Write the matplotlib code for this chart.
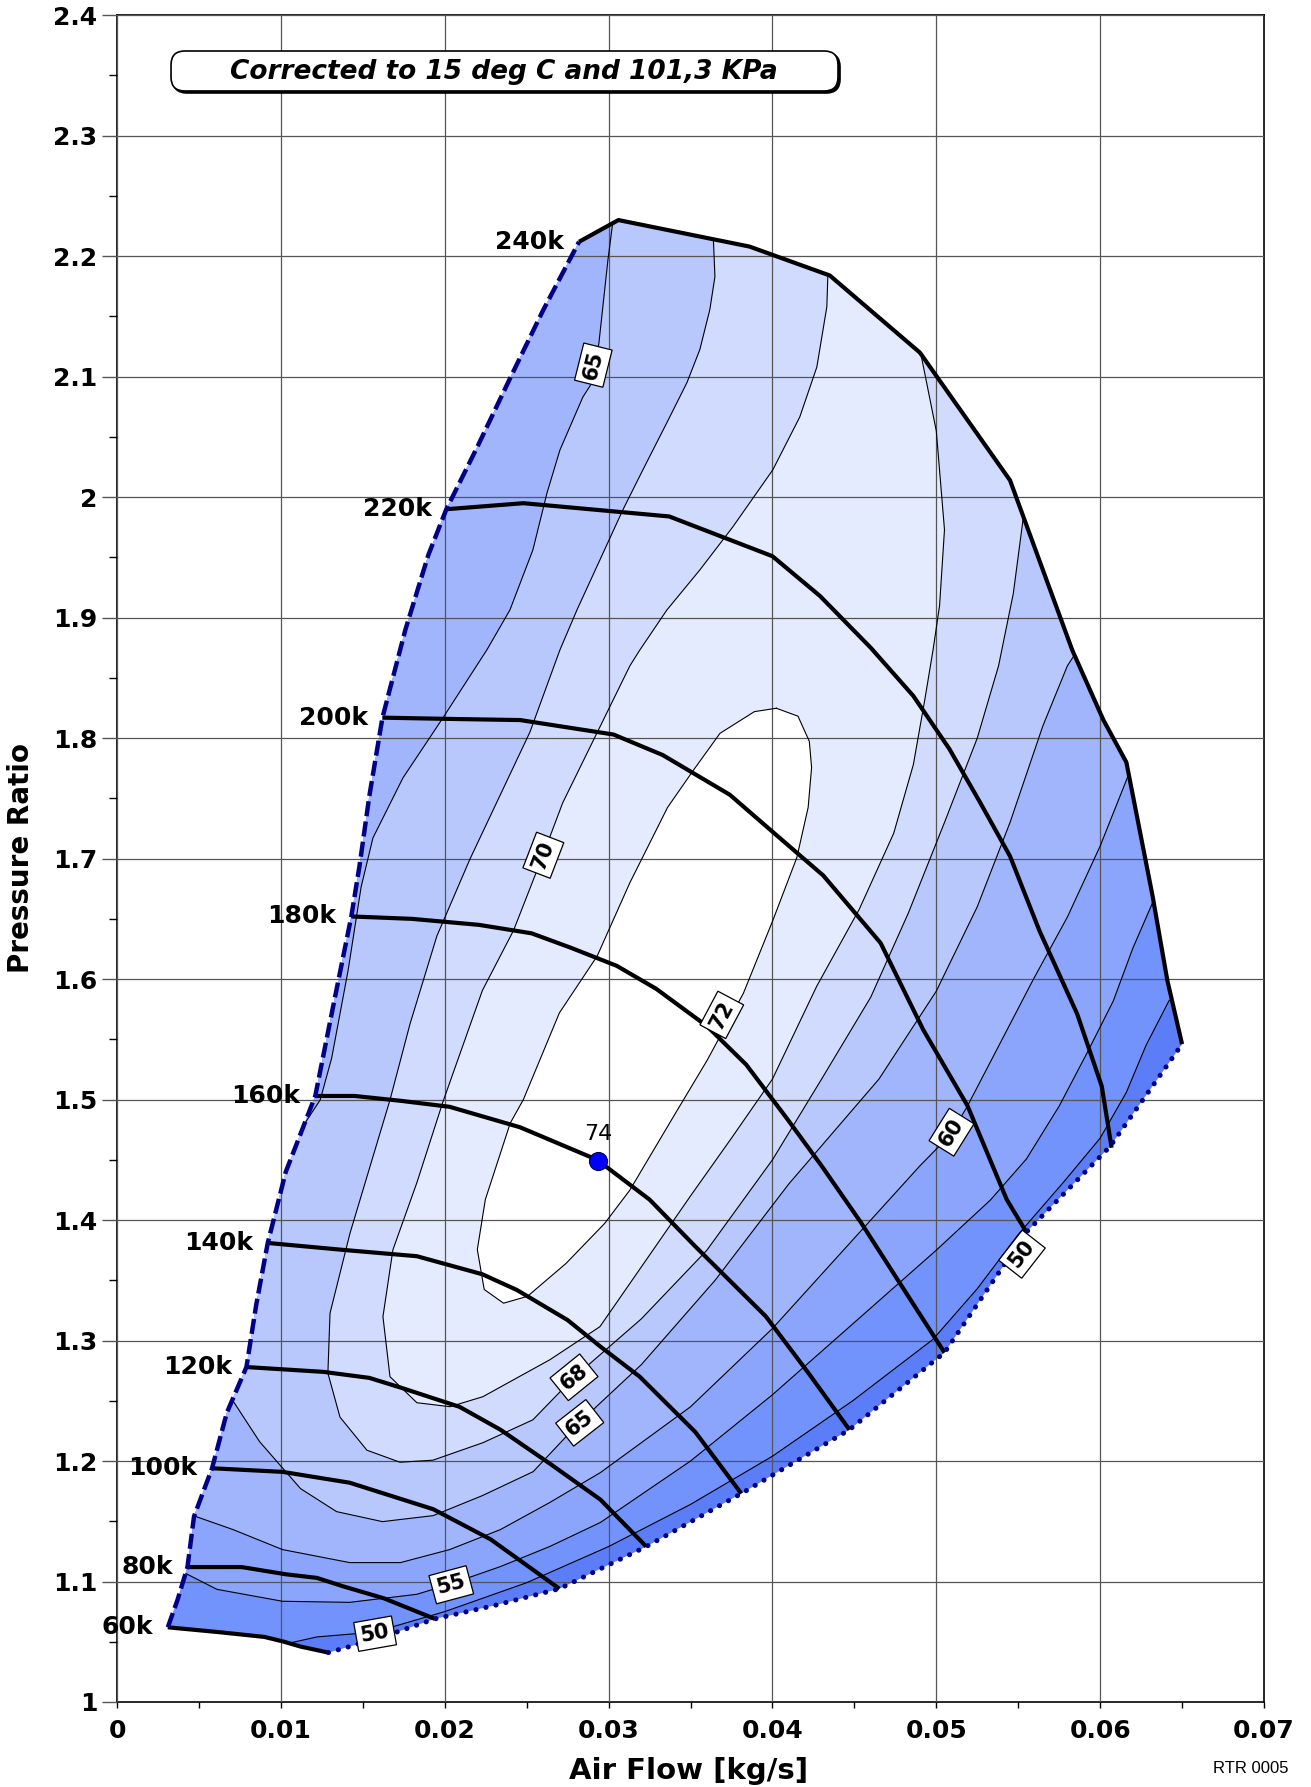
import matplotlib
matplotlib.use("Agg")
import matplotlib.pyplot as plt
from matplotlib.patches import Polygon, FancyBboxPatch
from matplotlib.transforms import offset_copy
import numpy as np

# ---- speed lines: (air flow [kg/s], pressure ratio) ----
spd_60k = [(0.0031, 1.062), (0.0062, 1.058), (0.0090, 1.054), (0.0102, 1.050), (0.0112, 1.046), (0.0129, 1.041)]
spd_80k = [(0.0043, 1.112), (0.0076, 1.112), (0.0103, 1.106), (0.0122, 1.103), (0.0138, 1.096), (0.0163, 1.086), (0.0194, 1.069)]
spd_100k = [(0.0058, 1.194), (0.0101, 1.191), (0.0142, 1.182), (0.0193, 1.160), (0.0228, 1.135), (0.0270, 1.094)]
spd_120k = [(0.0079, 1.278), (0.0126, 1.274), (0.0154, 1.269), (0.0173, 1.261), (0.0209, 1.245), (0.0234, 1.226),
            (0.0264, 1.198), (0.0295, 1.168), (0.0323, 1.129)]
spd_140k = [(0.0092, 1.381), (0.0140, 1.375), (0.0183, 1.370), (0.0223, 1.355), (0.0244, 1.342), (0.0275, 1.317),
            (0.0295, 1.295), (0.0319, 1.270), (0.0353, 1.224), (0.0381, 1.173)]
spd_160k = [(0.0121, 1.503), (0.0145, 1.503), (0.0173, 1.499), (0.0203, 1.494), (0.0246, 1.477), (0.0293, 1.450),
            (0.0325, 1.417), (0.0353, 1.378), (0.0396, 1.320), (0.0422, 1.273), (0.0447, 1.226)]
spd_180k = [(0.0143, 1.652), (0.0180, 1.650), (0.0221, 1.645), (0.0253, 1.638), (0.0277, 1.626), (0.0305, 1.611),
            (0.0329, 1.592), (0.0360, 1.561), (0.0384, 1.529), (0.0409, 1.484), (0.0430, 1.445), (0.0454, 1.398),
            (0.0479, 1.345), (0.0505, 1.290)]
spd_200k = [(0.0162, 1.817), (0.0201, 1.816), (0.0246, 1.815), (0.0303, 1.803), (0.0333, 1.786), (0.0374, 1.753),
            (0.0402, 1.720), (0.0431, 1.686), (0.0466, 1.630), (0.0492, 1.558), (0.0519, 1.495), (0.0543, 1.417),
            (0.0555, 1.390)]
spd_220k = [(0.0201, 1.990), (0.0248, 1.995), (0.0337, 1.984), (0.0400, 1.951), (0.0429, 1.918), (0.0460, 1.875),
            (0.0486, 1.835), (0.0508, 1.791), (0.0527, 1.746), (0.0545, 1.702), (0.0563, 1.640), (0.0586, 1.571),
            (0.0601, 1.511), (0.0607, 1.460)]
spd_240k = [(0.0282, 2.212), (0.0306, 2.230), (0.0386, 2.208), (0.0435, 2.184), (0.0490, 2.120), (0.0545, 2.014),
            (0.0583, 1.873), (0.0602, 1.815), (0.0616, 1.780), (0.0632, 1.669), (0.0641, 1.599), (0.0650, 1.546)]

speed_names = ["60k", "80k", "100k", "120k", "140k", "160k", "180k", "200k", "220k", "240k"]
speed_lines = [spd_60k, spd_80k, spd_100k, spd_120k, spd_140k, spd_160k, spd_180k, spd_200k, spd_220k, spd_240k]

surge_line = [(0.0031, 1.062), (0.0037, 1.085), (0.0043, 1.112), (0.0047, 1.154), (0.0058, 1.194), (0.0067, 1.240),
              (0.0079, 1.278), (0.0085, 1.330), (0.0092, 1.381), (0.0103, 1.440), (0.0121, 1.503),
              (0.0132, 1.578), (0.0143, 1.652), (0.0148, 1.694), (0.0154, 1.752), (0.0162, 1.817), (0.0176, 1.890),
              (0.0190, 1.952), (0.0201, 1.990), (0.0220, 2.042), (0.0240, 2.099), (0.0260, 2.155), (0.0282, 2.212)]
choke_line = [(0.0129, 1.041), (0.0160, 1.053), (0.0194, 1.069), (0.0230, 1.080), (0.0270, 1.094), (0.0323, 1.129),
              (0.0381, 1.173), (0.0447, 1.226), (0.0505, 1.290), (0.0555, 1.390), (0.0606, 1.461), (0.0650, 1.546)]

# ---- efficiency islands [%] ----
eff_50 = [(0.0097, 1.040), (0.0099, 1.047), (0.0122, 1.054), (0.0157, 1.058), (0.0200, 1.075), (0.0250, 1.099),
          (0.0300, 1.129), (0.0350, 1.164), (0.0400, 1.204), (0.0449, 1.250), (0.0498, 1.301), (0.0525, 1.343),
          (0.0550, 1.388), (0.0578, 1.432), (0.0600, 1.468), (0.0616, 1.506), (0.0628, 1.545), (0.0642, 1.582),
          (0.0648, 1.588)]
eff_55 = [(0.0035, 1.109), (0.0040, 1.108), (0.0061, 1.0935), (0.0101, 1.0836), (0.0142, 1.0827), (0.0183, 1.0894),
          (0.0203, 1.0977), (0.0234, 1.1124), (0.0264, 1.129), (0.0295, 1.149), (0.0350, 1.200), (0.0400, 1.255),
          (0.0450, 1.315), (0.0500, 1.375), (0.0533, 1.4166), (0.0555, 1.4507), (0.0575, 1.4946), (0.0592, 1.5387),
          (0.0608, 1.5818), (0.0620, 1.6258), (0.0633, 1.6665), (0.0640, 1.672)]
eff_60 = [(0.0040, 1.156), (0.0048, 1.154), (0.0071, 1.143), (0.0101, 1.1265), (0.0142, 1.1157), (0.0173, 1.1157),
          (0.0203, 1.1265), (0.0234, 1.1431), (0.0264, 1.1655), (0.0295, 1.1904), (0.0350, 1.245), (0.0400, 1.310),
          (0.0450, 1.385), (0.0490, 1.445), (0.0509, 1.4714), (0.0519, 1.4946), (0.0539, 1.5469), (0.0559, 1.5992),
          (0.0580, 1.6515), (0.0600, 1.7104), (0.0617, 1.7685), (0.0625, 1.775)]
eff_65_upper = [(0.0303, 2.245), (0.03026, 2.2284), (0.02996, 2.1968), (0.02941, 2.1279), (0.02898, 2.0947),
                (0.02843, 2.0831), (0.02703, 2.0391), (0.02624, 2.0034), (0.02538, 1.9562), (0.02398, 1.9064),
                (0.02257, 1.8732), (0.01989, 1.8168), (0.01745, 1.767), (0.01562, 1.7172), (0.0149, 1.6766),
                (0.0141, 1.6069), (0.0131, 1.5344), (0.0124, 1.4997), (0.0100, 1.450)]
eff_65_lower = [(0.0065, 1.262), (0.0087, 1.2161), (0.0112, 1.1771), (0.0134, 1.158), (0.0162, 1.1497),
                (0.0193, 1.1547), (0.0223, 1.1713), (0.0254, 1.1912), (0.0282, 1.2317), (0.0320, 1.280),
                (0.0365, 1.350), (0.0410, 1.430), (0.0465, 1.517), (0.0500, 1.590), (0.0525, 1.660),
                (0.0545, 1.730), (0.0565, 1.810), (0.0580, 1.860), (0.0592, 1.885)]
eff_68 = [(0.0364, 2.230), (0.0364, 2.213), (0.03649, 2.183), (0.03618, 2.1557), (0.03557, 2.1225), (0.03478, 2.095),
          (0.03356, 2.0619), (0.03209, 2.0226), (0.03087, 1.9894), (0.02947, 1.9479), (0.02807, 1.9064),
          (0.02703, 1.8732), (0.0252, 1.805), (0.02154, 1.6996), (0.01952, 1.6357), (0.01788, 1.5627),
          (0.01666, 1.4997), (0.01422, 1.3891), (0.0130, 1.3227), (0.01287, 1.2729), (0.01361, 1.2364),
          (0.01525, 1.209), (0.01727, 1.199), (0.01928, 1.2007), (0.02233, 1.2152), (0.02538, 1.2342),
          (0.0279, 1.2695), (0.0320, 1.318), (0.0360, 1.375), (0.0400, 1.450), (0.0430, 1.517), (0.0460, 1.585),
          (0.0483, 1.655), (0.0505, 1.730), (0.0525, 1.800), (0.0538, 1.860), (0.0547, 1.920), (0.0553, 1.982),
          (0.0558, 1.995)]
eff_70 = [(0.0434, 2.200), (0.04338, 2.183), (0.04332, 2.158), (0.04271, 2.108), (0.04167, 2.0666), (0.04002, 2.0226),
          (0.03758, 1.9753), (0.03557, 1.9396), (0.03356, 1.9064), (0.03191, 1.8732), (0.0313, 1.860),
          (0.0272, 1.7463), (0.0260, 1.703), (0.0242, 1.6404), (0.0223, 1.5906), (0.0199, 1.4985), (0.0183, 1.431),
          (0.01684, 1.3754), (0.01623, 1.3198), (0.01666, 1.270), (0.0183, 1.2484), (0.02032, 1.2451),
          (0.02233, 1.2534), (0.02642, 1.2841), (0.02947, 1.3115), (0.0323, 1.367), (0.0350, 1.420),
          (0.0375, 1.468), (0.0400, 1.517), (0.0427, 1.594), (0.0453, 1.658), (0.0474, 1.721), (0.0486, 1.778),
          (0.0493, 1.832), (0.0498, 1.873), (0.0502, 1.910), (0.0505, 1.973), (0.0500, 2.055), (0.0491, 2.116),
          (0.0492, 2.140)]
eff_72 = [(0.04024, 1.8248), (0.04156, 1.8182), (0.04225, 1.7974), (0.04239, 1.7756), (0.04218, 1.7425),
          (0.04149, 1.7009), (0.04003, 1.6489), (0.03823, 1.5883), (0.03601, 1.5325), (0.03393, 1.4852),
          (0.03129, 1.4247), (0.02976, 1.3972), (0.02741, 1.3641), (0.02505, 1.3367), (0.02359, 1.3310),
          (0.02241, 1.3424), (0.02199, 1.3755), (0.02248, 1.4171), (0.0240, 1.4805), (0.0248, 1.500),
          (0.0270, 1.572), (0.0293, 1.619), (0.0313, 1.680), (0.0336, 1.7425), (0.0352, 1.7738), (0.0368, 1.804),
          (0.0389, 1.822)]

peak_flow, peak_pr, peak_eff = 0.02935, 1.4493, 74

# label text, flow, pressure ratio, angle
eff_labels = [("65", 0.02907, 2.1096, 76), ("70", 0.02602, 1.7028, 69), ("72", 0.03691, 1.5703, 62),
              ("60", 0.05093, 1.4729, 58), ("50", 0.05523, 1.3717, 52), ("68", 0.02789, 1.2695, 39),
              ("65", 0.02824, 1.2317, 38), ("55", 0.0204, 1.0973, 15), ("50", 0.01575, 1.0567, 10)]

band_colors = ["#5b7ef8", "#7193fb", "#8ba5fc", "#a1b5fd", "#b8c8fd", "#d0dbfd", "#e5ebfe", "#ffffff"]

NAVY = "#000088"
TOP = 2.5

fig = plt.figure(figsize=(13.11, 17.87), dpi=100)
ax = fig.add_axes([0.08925, 0.04757, 0.8749, 0.9439])
ax.set_xlim(0, 0.07)
ax.set_ylim(1, 2.4)

# map outline = surge + 240k + choke + 60k
outline = surge_line + spd_240k[1:] + choke_line[::-1][1:] + spd_60k[::-1][1:-1]
map_patch = Polygon(outline, closed=True, facecolor=band_colors[0], edgecolor="none", zorder=1)
ax.add_patch(map_patch)


def close_over_top(line):
    return line + [(0.075, line[-1][1]), (0.075, TOP), (-0.005, TOP), (-0.005, line[0][1])]


fill_50 = close_over_top(eff_50)
fill_55 = close_over_top(eff_55)
fill_60 = close_over_top(eff_60)
fill_65 = (eff_65_upper + [(-0.005, eff_65_upper[-1][1]), (-0.005, eff_65_lower[0][1])] + eff_65_lower
           + [(eff_65_lower[-1][0], TOP), (eff_65_upper[0][0], TOP)])
fill_68 = eff_68 + [(eff_68[-1][0], TOP), (eff_68[0][0], TOP)]
fill_70 = eff_70 + [(eff_70[-1][0], TOP), (eff_70[0][0], TOP)]

for i, pts in enumerate([fill_50, fill_55, fill_60, fill_65, fill_68, fill_70, eff_72]):
    p = Polygon(pts, closed=True, facecolor=band_colors[i + 1], edgecolor="none", zorder=1)
    ax.add_patch(p)
    p.set_clip_path(map_patch)

# thin contour lines
for line in [eff_50, eff_55, eff_60, eff_65_upper, eff_65_lower, eff_68, eff_70, eff_72 + eff_72[:1]]:
    xs, ys = zip(*line)
    l, = ax.plot(xs, ys, color="black", lw=0.8, zorder=3)
    l.set_clip_path(map_patch)

# speed lines
for name, line in zip(speed_names, speed_lines):
    xs, ys = zip(*line)
    ax.plot(xs, ys, color="black", lw=3.0, solid_capstyle="butt", zorder=4)
    ax.text(xs[0] - 0.0009, ys[0], name, ha="right", va="center", fontsize=18, fontweight="bold", zorder=6)

xs, ys = zip(*surge_line)
ax.plot(xs, ys, color=NAVY, lw=3.2, dashes=(3.4, 1.2), zorder=5)
xs, ys = zip(*choke_line)
ax.plot(xs, ys, color=NAVY, lw=3.6, linestyle=(0, (0.05, 2.0)), dash_capstyle="round", zorder=5)

# peak efficiency point
ax.plot(peak_flow, peak_pr, "o", color="#0000ff", mec="#000044", mew=0.8, ms=13, zorder=6)
ax.text(peak_flow, peak_pr + 0.022, str(peak_eff), ha="center", va="center", fontsize=16, zorder=6)

for txt, fx, fy, ang in eff_labels:
    ax.text(fx, fy, txt, ha="center", va="center", rotation=ang, rotation_mode="anchor",
            fontsize=15, fontweight="bold", zorder=7,
            bbox=dict(boxstyle="square,pad=0.22", fc="white", ec="black", lw=0.9))

# axes styling
ax.set_xticks(np.arange(0, 0.0701, 0.01))
ax.set_xticklabels(["0", "0.01", "0.02", "0.03", "0.04", "0.05", "0.06", "0.07"])
ax.set_yticks(np.arange(1.0, 2.401, 0.1))
ax.set_yticklabels(["1", "1.1", "1.2", "1.3", "1.4", "1.5", "1.6", "1.7", "1.8", "1.9", "2", "2.1", "2.2", "2.3", "2.4"])
ax.set_xticks(np.arange(0.005, 0.07, 0.01), minor=True)
ax.set_yticks(np.arange(1.05, 2.4, 0.1), minor=True)
ax.grid(True, which="major", color="#555555", lw=0.9)
ax.set_axisbelow(False)
ax.tick_params(axis="x", which="major", length=4.5, width=1, pad=8, labelsize=18)
ax.tick_params(axis="x", which="minor", length=4.5, width=1)
ax.tick_params(axis="y", which="major", length=11, width=1, color="#555555", pad=3, labelsize=18)
ax.tick_params(axis="y", which="minor", length=6, width=1)
for lab in ax.get_xticklabels() + ax.get_yticklabels():
    lab.set_fontweight("bold")
for sp in ax.spines.values():
    sp.set_color("black")
    sp.set_linewidth(1.2)

# correction note
shadow = FancyBboxPatch((0.0471, 0.9551), 0.5815, 0.0237, boxstyle="round,pad=0,rounding_size=0.012",
                        mutation_aspect=0.68, fc="black", ec="black", lw=1.2,
                        transform=offset_copy(ax.transAxes, fig=fig, x=2, y=-2, units="dots"), zorder=8)
ax.add_patch(shadow)
note = FancyBboxPatch((0.0471, 0.9551), 0.5815, 0.0237, boxstyle="round,pad=0,rounding_size=0.012",
                      mutation_aspect=0.68, fc="white", ec="black", lw=1.2, transform=ax.transAxes, zorder=9)
ax.add_patch(note)
ax.text(0.3375, 0.9665, "Corrected to 15 deg C and 101,3 KPa", transform=ax.transAxes, ha="center", va="center",
        fontsize=19, fontweight="bold", fontstyle="italic", zorder=10)

fig.text(0.5256, 0.0087, "Air Flow [kg/s]", ha="center", va="center", fontsize=21, fontweight="bold")
fig.text(0.016, 0.5199, "Pressure Ratio", ha="center", va="center", rotation=90, fontsize=20, fontweight="bold")
fig.text(0.954, 0.0101, "RTR 0005", ha="center", va="center", fontsize=12, family="Liberation Sans")

fig.savefig("out.png", dpi=100)
